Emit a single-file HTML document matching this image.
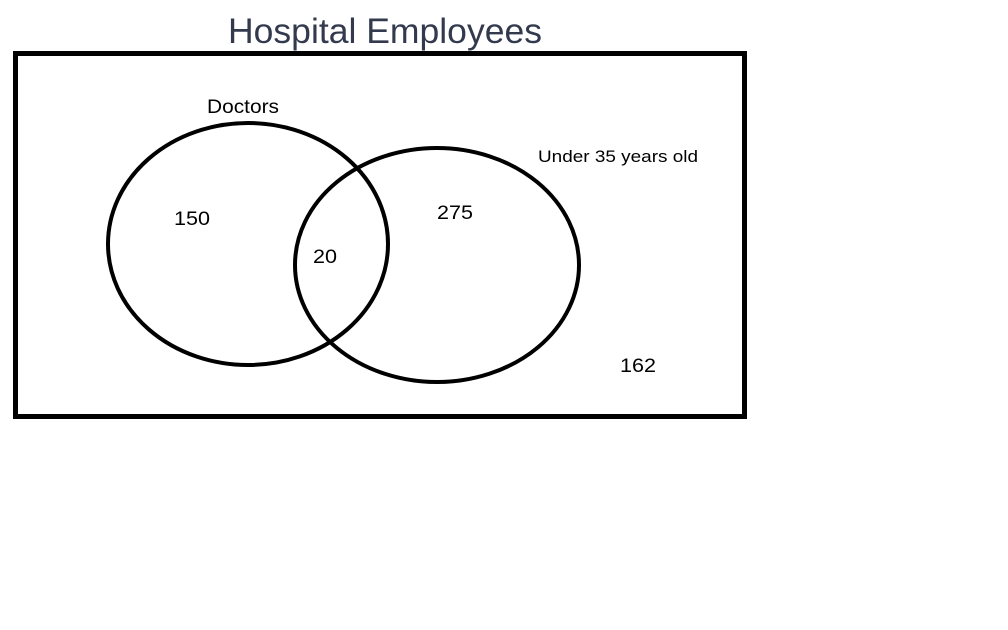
<!DOCTYPE html>
<html><head><meta charset="utf-8"><style>
html,body{margin:0;padding:0;background:#fff;width:1008px;height:630px;overflow:hidden}
</style></head><body>
<svg width="1008" height="630" viewBox="0 0 1008 630" xmlns="http://www.w3.org/2000/svg" style="display:block">
<rect width="1008" height="630" fill="#fff"/>
<text x="228" y="43" font-family="Liberation Sans, DejaVu Sans, sans-serif" font-size="35" fill="#333a4d" textLength="314" lengthAdjust="spacingAndGlyphs">Hospital Employees</text>
<rect x="15.5" y="53.5" width="729" height="363" fill="none" stroke="#000" stroke-width="5"/>
<ellipse cx="248" cy="244" rx="140" ry="121" fill="none" stroke="#000" stroke-width="4"/>
<ellipse cx="437" cy="265" rx="142" ry="117" fill="none" stroke="#000" stroke-width="4"/>
<g font-family="Liberation Sans, DejaVu Sans, sans-serif" fill="#000">
<text x="207" y="113" font-size="19" textLength="72" lengthAdjust="spacingAndGlyphs">Doctors</text>
<text x="538" y="162" font-size="17" textLength="160" lengthAdjust="spacingAndGlyphs">Under 35 years old</text>
<text x="174" y="225" font-size="19" textLength="36" lengthAdjust="spacingAndGlyphs">150</text>
<text x="437" y="219" font-size="19" textLength="36" lengthAdjust="spacingAndGlyphs">275</text>
<text x="313" y="263" font-size="19" textLength="24" lengthAdjust="spacingAndGlyphs">20</text>
<text x="620" y="372" font-size="19" textLength="36" lengthAdjust="spacingAndGlyphs">162</text>
</g>
</svg>
</body></html>
